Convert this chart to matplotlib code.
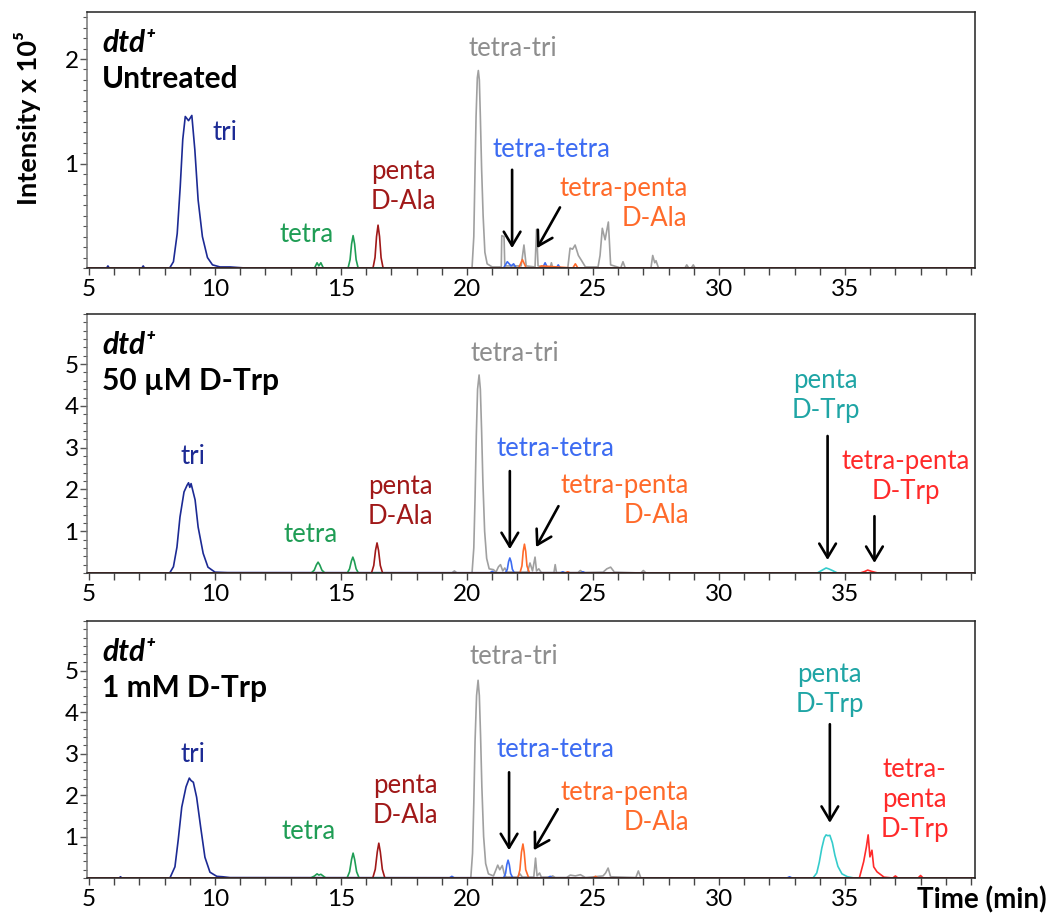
import matplotlib
matplotlib.use("Agg")
import matplotlib.pyplot as plt
from matplotlib.ticker import MultipleLocator, FixedLocator

plt.rcParams['font.family'] = ['Lato', 'DejaVu Sans']
plt.rcParams['font.size'] = 16

# colours
c_tri = "#1c2a94"
c_tetra = "#1f9d55"
c_penta_ala = "#a01818"
c_tetratri = "#a0a0a0"
c_tetratetra = "#3d6cf2"
c_tp_ala = "#ff6a2a"
c_penta_trp = "#35cccc"
c_tp_trp = "#ff2a2a"

# ---------- Untreated ----------
untreated_tri_t = [4.9, 5.7, 5.75, 5.8, 7.1, 7.15, 7.2, 8.2, 8.35, 8.5, 8.62, 8.72, 8.82, 8.95,
                   9.08, 9.2, 9.33, 9.5, 9.7, 9.9, 10.2, 10.6, 11.2, 40.1]
untreated_tri_y = [0, 0, 0.02, 0, 0, 0.02, 0, 0, 0.06, 0.33, 0.78, 1.23, 1.45, 1.41,
                   1.46, 1.13, 0.65, 0.3, 0.1, 0.03, 0.01, 0.01, 0, 0]
untreated_tetra_t = [4.9, 13.95, 14.05, 14.12, 14.2, 14.3, 15.28, 15.36, 15.42, 15.48, 15.54, 15.6, 15.68, 40.1]
untreated_tetra_y = [0, 0, 0.05, 0.02, 0.05, 0, 0, 0.08, 0.23, 0.31, 0.23, 0.08, 0, 0]
untreated_penta_ala_t = [4.9, 16.27, 16.35, 16.41, 16.47, 16.53, 16.59, 16.67, 40.1]
untreated_penta_ala_y = [0, 0, 0.1, 0.3, 0.41, 0.3, 0.1, 0, 0]
untreated_tetratri_t = [4.9, 20.2, 20.27, 20.32, 20.36, 20.41, 20.45, 20.49, 20.53, 20.58, 20.64,
                        20.71, 20.8, 21.0, 21.36, 21.38, 21.47, 21.5, 22.15, 22.26, 22.35, 22.7,
                        22.76, 22.82, 23.3, 23.35, 23.4, 24.0, 24.09, 24.19, 24.29, 24.42, 24.55,
                        24.7, 25.2, 25.28, 25.37, 25.48, 25.61, 25.7, 26.1, 26.19, 26.28, 27.3,
                        27.37, 27.45, 27.5, 27.6, 28.65, 28.72, 28.8, 28.9, 28.98, 29.05, 40.1]
untreated_tetratri_y = [0, 0, 0.3, 0.95, 1.45, 1.82, 1.89, 1.8, 1.45, 0.95, 0.5,
                        0.15, 0.04, 0.01, 0.01, 0.31, 0.3, 0.02, 0.02, 0.22, 0.02, 0.01,
                        0.37, 0.02, 0.0, 0.05, 0, 0, 0.19, 0.18, 0.22, 0.12, 0.07,
                        0.01, 0.01, 0.12, 0.38, 0.27, 0.44, 0.03, 0, 0.06, 0, 0,
                        0.12, 0.05, 0.07, 0, 0, 0.03, 0, 0, 0.03, 0, 0]
untreated_tetratetra_t = [4.9, 21.45, 21.6, 21.75, 21.85, 21.95, 23.0, 23.1, 23.2, 23.55, 23.62, 23.7, 40.1]
untreated_tetratetra_y = [0, 0, 0.06, 0.02, 0.04, 0, 0, 0.05, 0, 0, 0.03, 0, 0]
untreated_tp_ala_t = [4.9, 22.05, 22.2, 22.35, 22.85, 22.95, 24.2, 24.3, 24.4, 40.1]
untreated_tp_ala_y = [0, 0, 0.08, 0, 0, 0.02, 0, 0.04, 0, 0]

# ---------- 50 uM D-Trp ----------
trp50_tri_t = [4.9, 8.2, 8.35, 8.49, 8.61, 8.77, 8.89, 8.95, 9.0, 9.05, 9.21, 9.33, 9.53, 9.72, 10.0, 10.5, 40.1]
trp50_tri_y = [0, 0, 0.15, 0.62, 1.34, 1.94, 2.1, 2.16, 2.05, 2.14, 1.75, 1.1, 0.47, 0.14, 0.02, 0.01, 0]
trp50_tetra_t = [4.9, 13.82, 13.94, 14.02, 14.09, 14.16, 14.24, 14.36, 15.25, 15.34, 15.41, 15.47,
                 15.53, 15.6, 15.69, 40.1]
trp50_tetra_y = [0, 0, 0.07, 0.19, 0.26, 0.19, 0.07, 0, 0, 0.1, 0.28, 0.38,
                 0.28, 0.1, 0, 0]
trp50_penta_ala_t = [4.9, 16.21, 16.3, 16.37, 16.43, 16.49, 16.56, 16.65, 40.1]
trp50_penta_ala_y = [0, 0, 0.18, 0.54, 0.72, 0.54, 0.18, 0, 0]
trp50_tetratri_t = [4.9, 19.4, 19.5, 19.6, 20.2, 20.27, 20.32, 20.37, 20.42, 20.48, 20.53, 20.58,
                    20.63, 20.7, 20.78, 20.88, 21.05, 21.15, 21.25, 21.33, 21.42, 21.5, 21.6,
                    22.4, 22.5, 22.6, 22.7, 22.76, 22.85, 22.95, 23.45, 23.5, 23.55, 24.4, 24.5,
                    24.6, 25.4, 25.55, 25.7, 25.85, 26.9, 27.0, 27.1, 40.1]
trp50_tetratri_y = [0, 0, 0.05, 0, 0, 0.6, 1.8, 3.3, 4.4, 4.74, 4.4, 3.4,
                    2.2, 1.0, 0.35, 0.1, 0.08, 0.02, 0.15, 0.2, 0.05, 0.12, 0.02,
                    0.02, 0.24, 0.05, 0.38, 0.05, 0.1, 0.01, 0.01, 0.2, 0.01, 0.01, 0.06,
                    0.01, 0.02, 0.1, 0.14, 0.02, 0, 0.06, 0, 0]
trp50_tetratetra_t = [4.9, 20.9, 21.0, 21.1, 21.52, 21.6, 21.65, 21.7, 21.75, 21.8, 21.88, 23.7,
                      23.8, 23.9, 24.5, 24.6, 24.7, 40.1]
trp50_tetratetra_y = [0, 0, 0.04, 0, 0, 0.09, 0.27, 0.36, 0.27, 0.09, 0, 0,
                      0.03, 0, 0, 0.03, 0, 0]
trp50_tp_ala_t = [4.9, 22.1, 22.18, 22.23, 22.28, 22.33, 22.38, 22.48, 23.9, 24.0, 24.1, 40.1]
trp50_tp_ala_y = [0, 0, 0.17, 0.52, 0.69, 0.52, 0.17, 0, 0, 0.03, 0, 0]
trp50_penta_trp_t = [4.9, 33.9, 34.1, 34.25, 34.35, 34.5, 34.7, 40.1]
trp50_penta_trp_y = [0, 0, 0.07, 0.12, 0.1, 0.06, 0, 0]
trp50_tp_trp_t = [4.9, 35.6, 35.8, 35.9, 36.05, 36.3, 40.1]
trp50_tp_trp_y = [0, 0, 0.04, 0.07, 0.04, 0, 0]

# ---------- 1 mM D-Trp ----------
trp1m_tri_t = [4.9, 6.2, 6.25, 6.3, 8.21, 8.41, 8.54, 8.68, 8.85, 8.98, 9.05, 9.14, 9.27, 9.43,
               9.6, 9.8, 10.07, 10.3, 10.6, 40.1]
trp1m_tri_y = [0, 0, 0.03, 0, 0, 0.27, 0.92, 1.71, 2.2, 2.41, 2.35, 2.31, 1.95, 1.23,
               0.5, 0.14, 0.04, 0.03, 0.01, 0]
trp1m_tetra_t = [4.9, 13.8, 13.95, 14.05, 14.12, 14.2, 14.4, 15.24, 15.34, 15.42, 15.48, 15.54,
                 15.62, 15.72, 40.1]
trp1m_tetra_y = [0, 0, 0.05, 0.1, 0.07, 0.09, 0, 0, 0.15, 0.45, 0.6, 0.45,
                 0.15, 0, 0]
trp1m_penta_ala_t = [4.9, 16.26, 16.36, 16.44, 16.5, 16.56, 16.64, 16.74, 40.1]
trp1m_penta_ala_y = [0, 0, 0.21, 0.63, 0.84, 0.63, 0.21, 0, 0]
trp1m_tetratri_t = [4.9, 20.15, 20.22, 20.27, 20.32, 20.38, 20.44, 20.49, 20.54, 20.59, 20.66,
                    20.74, 20.85, 21.05, 21.15, 21.22, 21.3, 21.4, 21.48, 21.55, 22.0, 22.1,
                    22.2, 22.65, 22.72, 22.78, 22.88, 22.95, 23.3, 23.4, 23.5, 23.95, 24.1,
                    24.3, 24.5, 24.7, 25.4, 25.5, 25.6, 25.7, 26.7, 26.8, 26.9, 40.1]
trp1m_tetratri_y = [0, 0, 0.6, 1.8, 3.3, 4.4, 4.77, 4.4, 3.4, 2.2, 1.0,
                    0.35, 0.1, 0.05, 0.2, 0.31, 0.2, 0.3, 0.1, 0.02, 0.02, 0.1,
                    0.02, 0.02, 0.48, 0.05, 0.12, 0.02, 0.02, 0.05, 0.01, 0.01, 0.07,
                    0.05, 0.08, 0.01, 0.05, 0.12, 0.24, 0.03, 0.01, 0.17, 0, 0]
trp1m_tetratetra_t = [4.9, 19.3, 19.4, 19.5, 21.45, 21.53, 21.58, 21.63, 21.68, 21.73, 21.82, 23.2,
                      23.3, 23.4, 32.7, 32.8, 32.9, 40.1]
trp1m_tetratetra_y = [0, 0, 0.04, 0, 0, 0.11, 0.32, 0.43, 0.32, 0.11, 0, 0,
                      0.04, 0, 0, 0.03, 0, 0]
trp1m_tp_ala_t = [4.9, 22.02, 22.1, 22.16, 22.22, 22.27, 22.33, 22.45, 25.0, 25.1, 25.2, 40.1]
trp1m_tp_ala_y = [0, 0, 0.2, 0.62, 0.82, 0.62, 0.2, 0, 0, 0.04, 0, 0]
trp1m_penta_trp_t = [4.9, 33.73, 33.88, 33.98, 34.08, 34.18, 34.25, 34.32, 34.4, 34.5, 34.6, 34.72,
                     34.88, 35.1, 35.36, 40.1]
trp1m_penta_trp_y = [0, 0, 0.12, 0.38, 0.72, 0.97, 1.04, 1.02, 1.03, 0.85, 0.55, 0.28,
                     0.1, 0.03, 0, 0]
trp1m_tp_trp_t = [4.9, 35.57, 35.74, 35.85, 35.92, 35.99, 36.07, 36.14, 36.27, 36.55, 36.9, 37.0,
                  37.1, 37.9, 38.0, 38.1, 40.1]
trp1m_tp_trp_y = [0, 0, 0.39, 0.75, 1.04, 0.51, 0.67, 0.27, 0.15, 0.02, 0, 0.05,
                  0, 0, 0.06, 0, 0]

x_ticks = [5, 10, 15, 20, 25, 30, 35]

W, H = 1052, 917
fig = plt.figure(figsize=(W / 100, H / 100), dpi=100)


def make_axes(top_px, bottom_px):
    left, right = 87, 975
    return fig.add_axes([left / W, 1 - bottom_px / H, (right - left) / W, (bottom_px - top_px) / H])


def style_axes(ax, ymax, yticks, yminor):
    ax.set_xlim(4.92, 40.16)
    ax.set_ylim(0, ymax)
    ax.xaxis.set_major_locator(FixedLocator(x_ticks))
    ax.xaxis.set_minor_locator(MultipleLocator(1))
    ax.yaxis.set_major_locator(FixedLocator(yticks))
    ax.yaxis.set_minor_locator(MultipleLocator(yminor))
    ax.tick_params(axis='x', which='both', direction='out', length=5, width=1,
                   color='#444444', labelsize=17.5, pad=3, top=False)
    ax.tick_params(axis='y', which='major', direction='out', length=5, width=1,
                   color='#555555', labelsize=17.5, pad=1, right=False)
    ax.tick_params(axis='y', which='minor', direction='out', length=3, width=0.8,
                   color='#555555', right=False)
    for s in ax.spines.values():
        s.set_color('#222222')
        s.set_linewidth(1.1)
    ax.spines['left'].set_color('#777777')


def title(ax, line2):
    ax.text(0.017, 0.88, "dtd\u207a", transform=ax.transAxes, fontsize=21.5,
            fontweight='bold', fontstyle='italic', va='center', ha='left')
    ax.text(0.017, 0.74, line2, transform=ax.transAxes, fontsize=21.5,
            fontweight='bold', va='center', ha='left')


def label(ax, x, y, s, color, ha='center'):
    ax.text(x, y, s, color=color, fontsize=18.5, ha=ha, va='center',
            multialignment=ha, linespacing=1.25)


def arrow(ax, tail, tip):
    ax.annotate('', xy=tip, xytext=tail,
                arrowprops=dict(arrowstyle='->,head_length=0.5,head_width=0.3',
                                lw=1.9, color='black', shrinkA=0, shrinkB=0,
                                mutation_scale=20))


lw = 1.2

# ---- panel 1 ----
ax1 = make_axes(12, 268)
ax1.plot(untreated_tetratri_t, untreated_tetratri_y, color=c_tetratri, lw=lw)
ax1.plot(untreated_tetratetra_t, untreated_tetratetra_y, color=c_tetratetra, lw=lw)
ax1.plot(untreated_tp_ala_t, untreated_tp_ala_y, color=c_tp_ala, lw=lw)
ax1.plot(untreated_tri_t, untreated_tri_y, color=c_tri, lw=lw)
ax1.plot(untreated_tetra_t, untreated_tetra_y, color=c_tetra, lw=lw)
ax1.plot(untreated_penta_ala_t, untreated_penta_ala_y, color=c_penta_ala, lw=lw)
style_axes(ax1, 2.45, [1, 2], 0.1)
title(ax1, "Untreated")
label(ax1, 10.4, 1.30, "tri", c_tri)
label(ax1, 13.65, 0.32, "tetra", c_tetra)
label(ax1, 17.46, 0.78, "penta\nD-Ala", c_penta_ala)
label(ax1, 21.8, 2.1, "tetra-tri", "#8e8e8e")
label(ax1, 23.37, 1.13, "tetra-tetra", c_tetratetra)
label(ax1, 28.75, 0.615, "tetra-penta\nD-Ala", c_tp_ala, ha='right')
arrow(ax1, (21.79, 0.94), (21.79, 0.19))
arrow(ax1, (23.69, 0.58), (22.78, 0.19))

# ---- panel 2 ----
ax2 = make_axes(314, 573)
ax2.plot(trp50_tetratri_t, trp50_tetratri_y, color=c_tetratri, lw=lw)
ax2.plot(trp50_tetratetra_t, trp50_tetratetra_y, color=c_tetratetra, lw=lw)
ax2.plot(trp50_tp_ala_t, trp50_tp_ala_y, color=c_tp_ala, lw=lw)
ax2.plot(trp50_penta_trp_t, trp50_penta_trp_y, color=c_penta_trp, lw=lw)
ax2.plot(trp50_tp_trp_t, trp50_tp_trp_y, color=c_tp_trp, lw=lw)
ax2.plot(trp50_tri_t, trp50_tri_y, color=c_tri, lw=lw)
ax2.plot(trp50_tetra_t, trp50_tetra_y, color=c_tetra, lw=lw)
ax2.plot(trp50_penta_ala_t, trp50_penta_ala_y, color=c_penta_ala, lw=lw)
style_axes(ax2, 6.2, [1, 2, 3, 4, 5], 0.2)
title(ax2, "50 \u00b5M D-Trp")
label(ax2, 9.13, 2.78, "tri", c_tri)
label(ax2, 13.8, 0.91, "tetra", c_tetra)
label(ax2, 17.34, 1.72, "penta\nD-Ala", c_penta_ala)
label(ax2, 21.9, 5.26, "tetra-tri", "#8e8e8e")
label(ax2, 23.5, 2.97, "tetra-tetra", c_tetratetra)
label(ax2, 28.8, 1.73, "tetra-penta\nD-Ala", c_tp_ala, ha='right')
label(ax2, 34.23, 4.25, "penta\nD-Trp", "#1fa5a5")
label(ax2, 37.4, 2.3, "tetra-penta\nD-Trp", c_tp_trp)
arrow(ax2, (21.7, 2.44), (21.7, 0.57))
arrow(ax2, (23.63, 1.6), (22.74, 0.62))
arrow(ax2, (34.31, 3.28), (34.31, 0.31))
arrow(ax2, (36.17, 1.36), (36.17, 0.24))

# ---- panel 3 ----
ax3 = make_axes(621, 878)
ax3.plot(trp1m_tetratri_t, trp1m_tetratri_y, color=c_tetratri, lw=lw)
ax3.plot(trp1m_tetratetra_t, trp1m_tetratetra_y, color=c_tetratetra, lw=lw)
ax3.plot(trp1m_tp_ala_t, trp1m_tp_ala_y, color=c_tp_ala, lw=lw)
ax3.plot(trp1m_penta_trp_t, trp1m_penta_trp_y, color=c_penta_trp, lw=lw)
ax3.plot(trp1m_tp_trp_t, trp1m_tp_trp_y, color=c_tp_trp, lw=lw)
ax3.plot(trp1m_tri_t, trp1m_tri_y, color=c_tri, lw=lw)
ax3.plot(trp1m_tetra_t, trp1m_tetra_y, color=c_tetra, lw=lw)
ax3.plot(trp1m_penta_ala_t, trp1m_penta_ala_y, color=c_penta_ala, lw=lw)
style_axes(ax3, 6.2, [1, 2, 3, 4, 5], 0.2)
title(ax3, "1 mM D-Trp")
label(ax3, 9.13, 2.99, "tri", c_tri)
label(ax3, 13.7, 1.11, "tetra", c_tetra)
label(ax3, 17.54, 1.86, "penta\nD-Ala", c_penta_ala)
label(ax3, 21.87, 5.35, "tetra-tri", "#8e8e8e")
label(ax3, 23.5, 3.11, "tetra-tetra", c_tetratetra)
label(ax3, 28.8, 1.71, "tetra-penta\nD-Ala", c_tp_ala, ha='right')
label(ax3, 34.4, 4.54, "penta\nD-Trp", "#1fa5a5")
label(ax3, 37.76, 1.89, "tetra-\npenta\nD-Trp", c_tp_trp)
arrow(ax3, (21.67, 2.55), (21.67, 0.67))
arrow(ax3, (23.6, 1.66), (22.65, 0.67))
arrow(ax3, (34.4, 3.71), (34.4, 1.33))

fig.text(28 / W, 1 - 118 / H, "Intensity x 10\u2075", rotation=90, fontsize=19.5,
         fontweight='bold', ha='center', va='center')
fig.text(1047 / W, 1 - 900 / H, "Time (min)", fontsize=20, fontweight='bold',
         ha='right', va='center')

fig.savefig("out.png", dpi=100)
